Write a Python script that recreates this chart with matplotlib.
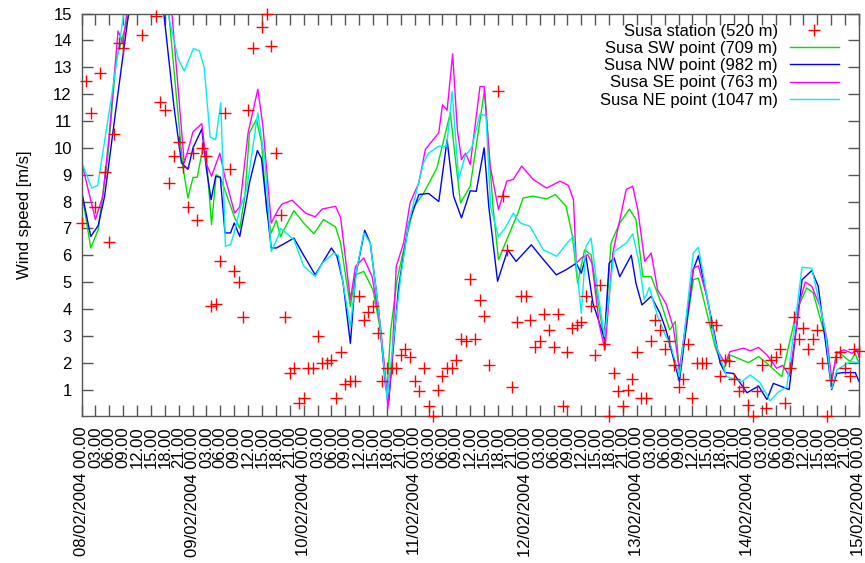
import numpy as np
import matplotlib
matplotlib.use("Agg")
import matplotlib.pyplot as plt

plt.rcParams['font.family'] = ['Liberation Sans', 'DejaVu Sans']

# ---------------- data (hours since 08/02/2004 00.00) ----------------
station_hours = list(range(0, 169))
station_speed = [
    7.2, 12.5, 11.3, 7.8, 12.8, 9.1, 6.5, 10.5, 13.9, 13.7,
    np.nan, np.nan, np.nan, 14.2, np.nan, np.nan, 14.9, 11.7, 11.4, 8.7,
    9.7, 10.2, 9.3, 7.8, 9.8, 7.3, 10.0, 9.7, 4.1, 4.2,
    5.8, 11.3, 9.2, 5.4, 5.0, 3.7, 11.4, 13.7, np.nan, 14.5,
    15.0, 13.8, 9.8, 7.5, 3.7, 1.6, 1.8, 0.5, 0.7, 1.8,
    1.8, 3.0, 2.0, 2.0, 2.1, 0.7, 2.4, 1.2, 1.3, 1.3,
    4.5, 3.6, 3.9, 4.1, 3.1, 1.3, 1.8, 1.8, 1.8, 2.3,
    2.5, 2.2, 1.3, 0.95, 1.8, 0.4, 0.0, 1.0, 1.5, 1.8,
    1.8, 2.1, 2.9, 2.8, 5.1, 2.9, 4.35, 3.75, 1.9, np.nan,
    12.1, 8.2, 6.2, 1.1, 3.5, 4.5, 4.5, 3.6, 2.6, 2.8,
    3.8, 3.2, 2.6, 3.8, 0.4, 2.4, 3.3, 3.4, 3.5, 4.5,
    4.1, 2.3, 4.9, 2.7, 0.0, 1.6, 0.95, 0.4, 1.0, 1.4,
    2.4, 0.7, 0.7, 2.8, 3.6, 3.2, 2.5, 2.8, 1.9, 1.1,
    1.4, 2.7, 0.7, 2.0, 2.0, 2.0, 3.5, 3.4, 1.5, 2.1,
    2.07, 1.4, 0.96, 1.1, 0.43, 0.0, 0.96, 1.9, 0.3, 2.1,
    2.2, 2.5, 0.5, 1.8, 3.7, 2.9, 3.3, 2.5, 2.9, 3.2,
    2.0, 0.0, 1.36, 2.2, 2.4, 1.8, 1.5, 2.5, 2.45,
]

sw_hours = [0, 2, 3.6, 5.7, 7.5, 10, 14, 18.7, 21.9, 23, 24.1, 25, 26.3, 27, 28.1, 29.1, 30,
            33.1, 34.2, 35.3, 36.3, 37.8, 38.9, 40, 41, 42.1, 43, 45.9, 48, 50.2, 52.3, 54.9,
            56, 58.1, 59.2, 61, 63, 64.5, 66, 66.8, 68.2, 69.6, 71.8, 73.9, 76.8, 79.7, 80.8,
            81.9, 84, 87.1, 88.9, 90.1, 91.9, 94.3, 95.4, 97.5, 100.5, 102.4, 104.7, 106.1,
            107.2, 108.7, 110.1, 111.9, 113, 114.4, 116.3, 118.4, 119.8, 121.3, 123.1, 125,
            127.1, 128.3, 129.2, 132.2, 133.3, 136.9, 138.7, 140.1, 144.1, 146.3, 148.1,
            151.3, 154.6, 156.7, 158.1, 161.1, 162.1, 163.2, 164.3, 166.1, 167.2, 168]
sw_speed = [8.4, 6.27, 6.95, 9.7, 13.3, 14.8, 17.5, 15.3, 9.3, 8.13, 8.9, 8.9, 10.06, 9.6, 7.14, 9.0, 8.9,
            7.4, 7.0, 8.2, 10.56, 11.06, 10.2, 7.7, 6.83, 7.3, 6.7, 7.66, 7.2, 6.8, 7.33, 7.05,
            6.45, 4.09, 5.27, 5.4, 4.7, 3.3, 0.86, 3.2, 5.1, 6.2, 7.8, 8.3, 9.25, 11.3, 9.56,
            7.95, 8.57, 12.18, 7.82, 5.83, 6.58, 7.57, 8.13, 8.2, 8.1, 8.26, 7.82, 6.7,
            4.96, 6.2, 6.02, 3.97, 2.78, 6.45, 7.2, 7.72, 7.33, 5.2, 5.2, 4.34,
            3.22, 3.53, 1.6, 5.09, 5.15, 2.6, 1.73, 2.29, 2.0, 2.23, 1.98,
            1.48, 3.97, 4.78, 4.6, 2.72, 1.3, 2.41, 2.29, 2.04, 2.33, 1.98]

nw_hours = [0, 2, 3.6, 5, 7.9, 10.4, 14, 17.6, 20, 21.6, 23, 24.1, 26, 27, 28, 29, 30, 31, 32.2, 33,
            34.2, 35.3, 36.3, 38, 38.9, 40, 41, 42.1, 44, 45.9, 48, 50.5, 52, 54, 55.2, 56.5,
            58.1, 59.2, 61.2, 62.4, 64.2, 65.7, 66.4, 68.5, 70.7, 72.9, 75, 77.2, 79, 80.4,
            82.1, 84, 85.3, 87, 88, 89.9, 92.1, 93.9, 97.2, 99.5, 102.6, 104.7, 106.9, 108,
            109, 110.5, 113, 114, 115.1, 116.3, 118.8, 119.8, 121.1, 123.1, 125, 126.3, 129.2,
            132.2, 133.3, 136.6, 138, 139.1, 140.9, 143.8, 146.3, 148.1, 149.5, 152.9, 155.7,
            157.8, 159.2, 160.7, 162.1, 163.2, 164.7, 167.2, 168]
nw_speed = [8.4, 6.7, 7.1, 8.2, 12.05, 15.3, 17.5, 15.3, 11.5, 9.44, 9.2, 10.0, 10.7, 9.2, 8.07, 8.94, 8.9, 6.83, 6.83, 7.2,
            6.7, 7.7, 8.7, 9.9, 9.6, 7.8, 6.27, 6.27, 6.45, 6.64, 6.0, 5.27, 5.7, 6.27, 5.96, 5.0,
            2.72, 5.2, 6.93, 6.45, 3.97, 1.1, 0.6, 4.8, 7.2, 8.26, 8.3, 8.0, 10.3, 8.2,
            7.39, 8.4, 8.38, 10.0, 7.82, 5.03, 6.2, 5.77, 6.39, 5.9, 5.27, 5.46, 5.7, 5.33,
            5.96, 4.22, 2.9, 5.7, 5.9, 5.2, 6.0, 4.96, 4.15, 4.47, 3.84, 3.22, 1.3,
            5.46, 5.98, 3.22, 1.98, 1.63, 1.6, 0.88, 1.13, 0.63, 1.23, 1.0, 5.09,
            5.43, 4.84, 2.85, 1.0, 1.6, 1.63, 1.63, 1.3]

se_hours = [0, 3, 4.6, 6, 7.9, 9, 10, 14, 19.4, 22.2, 23, 24.1, 26, 27, 28.1, 29.9, 31, 33.1, 34.2,
            36, 38.1, 39.2, 41, 42.5, 43.3, 45.5, 48.4, 50.5, 52, 54.9, 56, 58.1, 59.2, 61,
            62.8, 64.6, 65.7, 66.2, 67.1, 68, 69.6, 71, 72.9, 74.3, 77.2, 78, 79, 80.2, 81.2,
            82.1, 83, 84, 86.1, 87, 88.3, 90.1, 91.9, 93.3, 95.1, 97.6, 100.5, 103.4, 105.2,
            106.3, 106.9, 108, 109.4, 110.3, 111.9, 113.1, 114.8, 117.7, 119.1, 120.2, 121.7,
            123.1, 124.5, 126.3, 127.9, 129.2, 132.2, 133.3, 135.1, 137.3, 139.1, 140.1, 143,
            144.5, 146.3, 148.1, 150.2, 151.5, 153, 155.3, 156.4, 157.8, 159.6, 161.1, 162.1,
            163.2, 164.7, 166.5, 167.6, 168]
se_speed = [9.48, 7.33, 8.2, 10.5, 14.35, 13.9, 15.3, 17.5, 15.3, 9.44, 9.9, 10.6, 10.9, 9.4, 8.94, 9.8, 8.9, 7.57, 7.8,
            10.56, 12.18, 10.8, 7.2, 7.7, 7.9, 8.05, 7.57, 7.43, 7.72, 7.82, 7.39, 4.34, 5.58, 5.9,
            5.2, 3.35, 1.48, 0.3, 2.1, 5.58, 6.45, 7.95, 8.7, 9.94, 10.56, 11.6, 11.4, 13.5, 10.7,
            9.56, 9.8, 9.38, 12.28, 12.28, 9.32, 7.7, 8.76, 8.82, 9.32, 8.82, 8.5, 8.76, 8.6,
            8.07, 5.7, 5.9, 6.02, 5.7, 3.4, 2.48, 6.08, 8.45, 8.57, 7.7, 5.77,
            6.08, 4.7, 4.2, 3.3, 1.73, 5.52, 5.6, 4.47, 2.48, 1.98, 2.41, 2.54,
            2.44, 2.57, 2.29, 1.79, 1.9, 1.5, 4.34, 5.0, 4.84, 4.09, 2.85, 1.36,
            2.35, 2.48, 2.35, 2.5, 2.2]

ne_hours = [0, 2.2, 3.5, 6.4, 9.4, 14, 18.3, 20.9, 22.2, 24.2, 25.5, 26.5, 27.8, 29, 30.1, 31.1, 32.2,
            33, 34.2, 35.7, 38.1, 39.6, 41, 42.5, 43, 45.9, 48, 50.5, 52, 54.5, 55.5, 58.1,
            59.5, 61, 62.4, 64.2, 66, 67.2, 68.9, 70.7, 73.9, 75, 77.2, 78.9, 80.1, 81.5, 82.9,
            84.3, 86.1, 87.4, 88.4, 90.1, 91.5, 93.3, 94.8, 96.9, 99.8, 102.7, 104.9, 106.3,
            108, 109, 110.1, 111.6, 113, 115.1, 117.7, 119.1, 120.5, 121.6, 122.7, 124.5,
            126.3, 127.2, 129.2, 132.2, 133.3, 136.9, 139.4, 142.7, 144.5, 146.6, 148.8,
            150.5, 152.4, 155.7, 157.8, 160.7, 162.1, 163.2, 166.1, 168]
ne_speed = [9.48, 8.5, 8.6, 11.8, 15.3, 17.5, 15.3, 13.3, 12.86, 13.7, 13.6, 13.0, 10.4, 10.3, 11.68, 6.33, 6.4,
            6.83, 7.7, 8.45, 11.3, 9.56, 6.14, 6.7, 7.0, 6.58, 5.6, 5.21, 5.7, 6.08, 6.0, 3.35,
            5.5, 6.83, 6.45, 3.97, 0.67, 2.5, 5.1, 7.2, 9.44, 9.8, 10.06, 10.06, 12.1, 8.82, 9.7,
            10.0, 11.25, 11.2, 7.8, 6.7, 7.0, 7.57, 7.2, 7.08, 6.2, 5.96, 6.45, 6.7,
            3.84, 6.33, 6.64, 4.6, 2.97, 6.14, 6.45, 6.8, 5.7, 4.34, 4.8, 3.72,
            2.97, 2.72, 1.48, 6.08, 6.3, 2.78, 1.48, 1.3, 1.54, 1.26, 0.58,
            0.9, 1.1, 5.55, 5.52, 3.22, 1.04, 1.73, 2.04, 2.0]

labels = ["Susa station (520 m)", "Susa SW point (709 m)", "Susa NW point (982 m)",
          "Susa SE point (763 m)", "Susa NE point (1047 m)"]
colors = ["#ff0000", "#00e000", "#0000ff", "#ff00ff", "#00eeee"]

start_day = 8
tick_hours = list(range(0, 169, 3))
tick_labels = [(f"{start_day + h // 24:02d}/02/2004 00.00" if h % 24 == 0 else f"{h % 24:02d}.00")
               for h in tick_hours]

FS = 12

# ---------------- figure ----------------
fig = plt.figure(figsize=(8.65, 5.63), dpi=100)
ax = fig.add_axes([81.5 / 865, 1 - 416.4 / 563, 777.5 / 865, (416.4 - 13.5) / 563])

ax.plot(station_hours, station_speed, linestyle='none', marker='+', markersize=9,
        markeredgewidth=1.0, color=colors[0], label=labels[0], clip_on=False, zorder=5)
for hrs, vals, lab, col in [(sw_hours, sw_speed, labels[1], colors[1]),
                            (nw_hours, nw_speed, labels[2], colors[2]),
                            (se_hours, se_speed, labels[3], colors[3]),
                            (ne_hours, ne_speed, labels[4], colors[4])]:
    ax.plot(hrs, vals, color=col, lw=1.0, label=lab)

ax.set_xlim(0, 168)
ax.set_ylim(0, 15)
ax.set_yticks(range(1, 16))
ax.set_xticks(tick_hours)
ax.set_xticklabels(tick_labels, rotation=90, fontsize=FS)
ax.tick_params(axis='both', direction='in', length=8, width=1, colors='#555555',
               labelcolor='black', labelsize=FS, top=True, right=True)
ax.tick_params(axis='x', pad=7.5)
ax.tick_params(axis='y', pad=7)
for s in ax.spines.values():
    s.set_color('#555555')
    s.set_linewidth(1)

ax.set_ylabel("Wind speed [m/s]", fontsize=FS)
ax.yaxis.set_label_coords(-0.064, 0.5)

leg = ax.legend(loc='upper right', bbox_to_anchor=(1 - 15 / 777.5, 1 - 5.5 / 402.9),
                markerfirst=False, frameon=False, fontsize=FS,
                handlelength=2.95, handletextpad=0.72, labelspacing=0.13,
                borderaxespad=0.0, borderpad=0.3)

fig.savefig("out.png", dpi=100)
